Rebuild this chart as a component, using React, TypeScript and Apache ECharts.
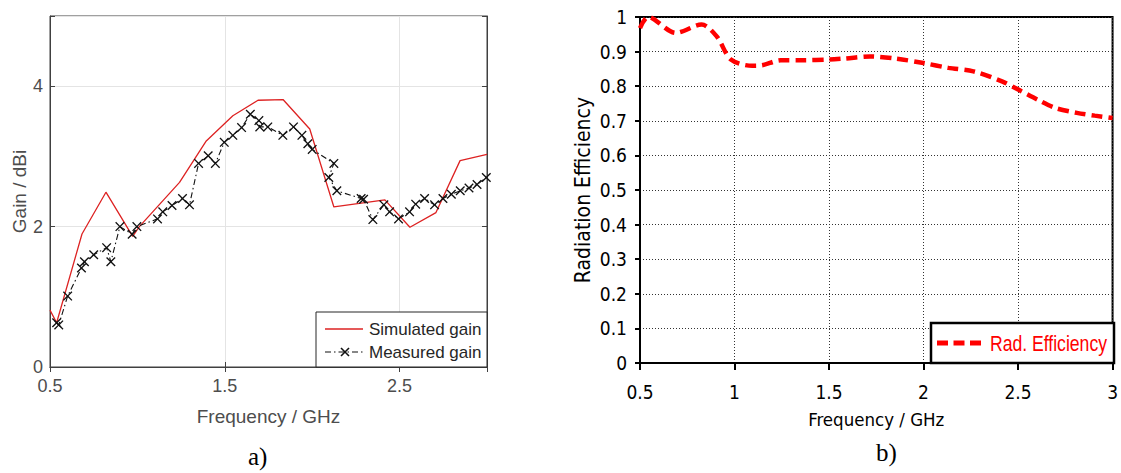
import React, { useEffect, useRef } from "react";
import * as echarts from "echarts";

// ---- Chart a) Gain ----
const simFreq = [0.5, 0.538, 0.683, 0.82, 0.973, 1.011, 1.241, 1.394, 1.546, 1.69, 1.833, 1.986, 2.124, 2.416, 2.559, 2.708, 2.846, 3.0];
const simGain = [0.81, 0.63, 1.895, 2.49, 1.86, 2.0, 2.63, 3.22, 3.58, 3.8, 3.81, 3.39, 2.28, 2.38, 1.99, 2.2, 2.94, 3.03];

const measFreq = [0.538, 0.55, 0.601, 0.68, 0.697, 0.75, 0.824, 0.848, 0.9, 0.97, 0.997, 1.115, 1.145, 1.198, 1.258, 1.298, 1.35, 1.405, 1.446, 1.497, 1.546, 1.596, 1.646, 1.695, 1.7, 1.746, 1.832, 1.893, 1.941, 1.975, 2.0, 2.124, 2.095, 2.141, 2.28, 2.294, 2.347, 2.41, 2.443, 2.494, 2.557, 2.592, 2.643, 2.7, 2.748, 2.796, 2.847, 2.897, 2.943, 2.996];
const measGain = [0.63, 0.6, 1.01, 1.41, 1.5, 1.6, 1.7, 1.5, 2.0, 1.89, 2.0, 2.11, 2.21, 2.3, 2.4, 2.31, 2.9, 3.01, 2.9, 3.2, 3.3, 3.41, 3.6, 3.51, 3.42, 3.42, 3.3, 3.42, 3.3, 3.18, 3.1, 2.9, 2.7, 2.51, 2.4, 2.39, 2.1, 2.31, 2.21, 2.11, 2.21, 2.32, 2.4, 2.31, 2.4, 2.46, 2.51, 2.55, 2.6, 2.7];

const gainLegend = ["Simulated gain", "Measured gain"];

// ---- Chart b) Radiation efficiency ----
const effFreq = [0.5, 0.543, 0.689, 0.826, 0.906, 0.981, 1.094, 1.142, 1.245, 1.358, 1.5, 1.585, 1.717, 1.849, 2.0, 2.132, 2.264, 2.415, 2.509, 2.604, 2.698, 2.811, 2.906, 3.0];
const effValue = [0.968, 1.0, 0.954, 0.978, 0.944, 0.877, 0.859, 0.86, 0.875, 0.875, 0.877, 0.88, 0.886, 0.88, 0.867, 0.853, 0.843, 0.814, 0.788, 0.761, 0.737, 0.723, 0.715, 0.708];
const effName = "Rad. Efficiency";

const captions = ["a)", "b)"];

const SANS = "'Liberation Sans', Arial, sans-serif";
const NARROW = "'Liberation Sans Narrow', 'DejaVu Sans Condensed', sans-serif";
const SERIF = "'Liberation Serif', 'Times New Roman', serif";
const X_PATH = "path://M1,0 L5,4 L9,0 L10,1 L6,5 L10,9 L9,10 L5,6 L1,10 L0,9 L4,5 L0,1 Z";

const zip = (a: number[], b: number[]) => a.map((v, i) => [v, b[i]]);

export default function App() {
  const ref = useRef<HTMLDivElement>(null);
  useEffect(() => {
    if (!ref.current) return;
    const chart = echarts.init(ref.current, undefined, { renderer: "svg" });
    const leftAxisCol = "#404040";
    const leftText = "#4d4d4d";
    const simColor = "#dd2222";
    const measColor = "#111";
    const measDash = [6, 3, 1.5, 3];
    chart.setOption({
      animation: false,
      backgroundColor: "#fff",
      grid: [
        { left: 50, top: 16, width: 437, height: 351, show: true, borderColor: leftAxisCol, borderWidth: 1 },
        { left: 640, top: 17, width: 474, height: 346, show: true, borderColor: "#000", borderWidth: 2 },
      ],
      xAxis: [
        {
          gridIndex: 0, type: "value", min: 0.5, max: 3, interval: 1,
          axisLine: { show: true, lineStyle: { color: leftAxisCol, width: 1 } },
          axisTick: { show: true, inside: true, length: 5, lineStyle: { color: leftAxisCol } },
          axisLabel: { color: leftText, fontSize: 18, margin: 10, fontFamily: SANS, formatter: (v: number) => (v === 3 ? "" : String(v)) },
          splitLine: { show: true, lineStyle: { color: "#e4e4e4", width: 1 } },
          name: "Frequency / GHz", nameLocation: "middle", nameGap: 40,
          nameTextStyle: { color: leftText, fontSize: 19, fontFamily: SANS },
        },
        {
          gridIndex: 0, type: "value", position: "top", min: 0.5, max: 3, interval: 1,
          axisLine: { show: true, lineStyle: { color: leftAxisCol, width: 1 } },
          axisTick: { show: true, inside: true, length: 5, lineStyle: { color: leftAxisCol } },
          axisLabel: { show: false }, splitLine: { show: false },
        },
        {
          gridIndex: 1, type: "value", min: 0.5, max: 3, interval: 0.5,
          axisLine: { show: true, lineStyle: { color: "#000", width: 2 } },
          axisTick: { show: true, length: 7, lineStyle: { color: "#000", width: 2 } },
          axisLabel: { color: "#000", fontSize: 19, margin: 19, fontFamily: NARROW },
          splitLine: { show: true, lineStyle: { color: "#333", width: 1, type: [1, 2] } },
          name: "Frequency / GHz", nameLocation: "middle", nameGap: 47,
          nameTextStyle: { color: "#000", fontSize: 18.5, fontFamily: NARROW },
        },
      ],
      yAxis: [
        {
          gridIndex: 0, type: "value", min: 0, max: 5, interval: 2,
          axisLine: { show: true, lineStyle: { color: leftAxisCol, width: 1 } },
          axisTick: { show: true, inside: true, length: 5, lineStyle: { color: leftAxisCol } },
          axisLabel: { color: leftText, fontSize: 18, margin: 7, fontFamily: SANS, formatter: (v: number) => (v === 5 ? "" : String(v)) },
          splitLine: { show: true, lineStyle: { color: "#e4e4e4", width: 1 } },
          name: "Gain / dBi", nameLocation: "middle", nameGap: 21,
          nameTextStyle: { color: leftText, fontSize: 19, fontFamily: SANS },
        },
        {
          gridIndex: 0, type: "value", position: "right", min: 0, max: 5, interval: 2,
          axisLine: { show: true, lineStyle: { color: leftAxisCol, width: 1 } },
          axisTick: { show: true, inside: true, length: 5, lineStyle: { color: leftAxisCol } },
          axisLabel: { show: false }, splitLine: { show: false },
        },
        {
          gridIndex: 1, type: "value", min: 0, max: 1, interval: 0.1,
          axisLine: { show: true, lineStyle: { color: "#000", width: 2 } },
          axisTick: { show: true, length: 5, lineStyle: { color: "#000", width: 2 } },
          axisLabel: { color: "#000", fontSize: 19, margin: 13, fontFamily: NARROW, formatter: (v: number) => String(parseFloat(v.toFixed(1))) },
          splitLine: { show: true, lineStyle: { color: "#333", width: 1, type: [1, 2] } },
          name: "Radiation Efficiency", nameLocation: "middle", nameGap: 47,
          nameTextStyle: { color: "#000", fontSize: 21, fontFamily: "'DejaVu Sans Condensed', 'Liberation Sans', sans-serif" },
        },
      ],
      series: [
        {
          name: gainLegend[0], type: "line", xAxisIndex: 0, yAxisIndex: 0,
          data: zip(simFreq, simGain), symbol: "none",
          lineStyle: { color: simColor, width: 1.3 }, itemStyle: { color: simColor },
          z: 3,
        },
        {
          name: gainLegend[1], type: "line", xAxisIndex: 0, yAxisIndex: 0,
          data: zip(measFreq, measGain), symbol: X_PATH, symbolSize: 9.5, showAllSymbol: true,
          lineStyle: { color: measColor, width: 1.1, type: measDash }, itemStyle: { color: measColor },
          z: 4,
        },
        {
          name: effName, type: "line", xAxisIndex: 2, yAxisIndex: 2,
          data: zip(effFreq, effValue), symbol: "none", smooth: 0.3, clip: false,
          lineStyle: { color: "#ff0000", width: 4.5, type: [11, 6] }, itemStyle: { color: "#ff0000" },
        },
      ],
      graphic: [
        // legend of chart a)
        { type: "rect", z: 100, shape: { x: 316, y: 312, width: 171, height: 55 }, style: { fill: "#fff", stroke: "#262626", lineWidth: 1 } },
        { type: "line", z: 101, shape: { x1: 325, y1: 329, x2: 363, y2: 329 }, style: { stroke: simColor, lineWidth: 1.3 } },
        { type: "text", z: 101, x: 369, y: 329, style: { text: gainLegend[0], font: `17px ${SANS}`, fill: "#262626", verticalAlign: "middle" } },
        { type: "line", z: 101, shape: { x1: 325, y1: 352, x2: 363, y2: 352 }, style: { stroke: measColor, lineWidth: 1.1, lineDash: measDash } },
        { type: "line", z: 102, shape: { x1: 341, y1: 348, x2: 349, y2: 356 }, style: { stroke: measColor, lineWidth: 1.6 } },
        { type: "line", z: 102, shape: { x1: 341, y1: 356, x2: 349, y2: 348 }, style: { stroke: measColor, lineWidth: 1.6 } },
        { type: "text", z: 101, x: 369, y: 352, style: { text: gainLegend[1], font: `17px ${SANS}`, fill: "#262626", verticalAlign: "middle" } },
        // legend of chart b)
        { type: "rect", z: 100, shape: { x: 931, y: 323, width: 183, height: 40 }, style: { fill: "#fff", stroke: "#000", lineWidth: 2.5 } },
        { type: "line", z: 101, shape: { x1: 937, y1: 343, x2: 981, y2: 343 }, style: { stroke: "#ff0000", lineWidth: 5, lineDash: [11, 5.5] } },
        { type: "text", z: 101, x: 990, y: 343, scaleX: 0.8, style: { text: effName, font: `22px ${SANS}`, fill: "#ff0000", verticalAlign: "middle" } },
        // captions
        { type: "text", left: 248, top: 444, style: { text: captions[0], font: `25px ${SERIF}`, fill: "#000" } },
        { type: "text", left: 876, top: 440, style: { text: captions[1], font: `25px ${SERIF}`, fill: "#000" } },
      ],
    });
    return () => chart.dispose();
  }, []);
  return <div ref={ref} style={{ position: "absolute", left: 0, top: 0, width: 1121, height: 473 }} />;
}
